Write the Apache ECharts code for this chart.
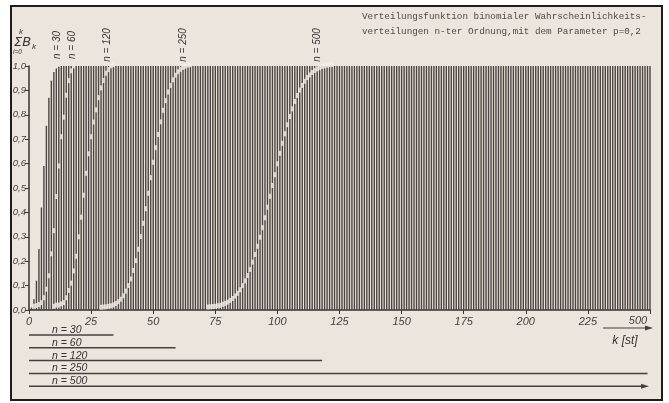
<!DOCTYPE html>
<html>
<head>
<meta charset="utf-8">
<title>Verteilungsfunktion binomialer Wahrscheinlichkeitsverteilungen</title>
<script src="https://cdn.jsdelivr.net/npm/echarts@6/dist/echarts.min.js"></script>
<style>html,body{margin:0;background:#fff}#main{width:669px;height:403px}</style>
</head>
<body>
<div id="main"></div>
<script>
// Balken n = 30, k = 0..12 (danach alle Balken bei 1,0)
var barsN30 = [0.001, 0.01, 0.044, 0.12, 0.25, 0.42, 0.59, 0.755, 0.87, 0.94, 0.975, 0.99, 0.997];
var kMax = 250;

// weisse Punkte der übrigen Verteilungen: erstes k und Summenwerte
var startN60 = 2;
var cdfN60 = [0.005, 0.008, 0.012, 0.02, 0.04, 0.075, 0.13, 0.22, 0.315, 0.455, 0.58, 0.70, 0.78, 0.87, 0.93, 0.97, 0.99];
var startN120 = 10;
var cdfN120 = [0.005, 0.01, 0.01, 0.015, 0.02, 0.04, 0.07, 0.10, 0.15, 0.21, 0.29, 0.37, 0.46, 0.55, 0.63, 0.70,
  0.76, 0.81, 0.86, 0.90, 0.93, 0.96, 0.975, 0.99, 0.995];
var startN250 = 29;
var cdfN250 = [0.001, 0.002, 0.003, 0.005, 0.007, 0.011, 0.016, 0.024, 0.034, 0.048, 0.067, 0.09, 0.117, 0.152,
  0.192, 0.239, 0.291, 0.345, 0.405, 0.468, 0.532, 0.595, 0.655, 0.709, 0.761, 0.808, 0.848, 0.883, 0.91, 0.933,
  0.952, 0.966, 0.976, 0.984, 0.989, 0.993, 0.995];
var startN500 = 72;
var cdfN500 = [0.002, 0.003, 0.004, 0.005, 0.007, 0.009, 0.013, 0.017, 0.022, 0.029, 0.037, 0.047, 0.058, 0.073,
  0.09, 0.109, 0.131, 0.156, 0.186, 0.217, 0.251, 0.288, 0.327, 0.368, 0.411, 0.456, 0.5, 0.544, 0.589, 0.632,
  0.673, 0.712, 0.749, 0.783, 0.814, 0.844, 0.869, 0.891, 0.91, 0.927, 0.942, 0.953, 0.963, 0.971, 0.978, 0.983,
  0.988, 0.99, 0.993, 0.995, 0.996];

// Beschriftungen
var nLabels = ['n = 30', 'n = 60', 'n = 120', 'n = 250', 'n = 500'];
var nLabelK = [11.5, 17.5, 31.5, 62, 116];     // k, bei dem die Kurve 1,0 erreicht
var rangeEnd = [34, 59, 118, 249, 248];        // Striche unter der Achse
var xTicks = [0, 25, 50, 75, 100, 125, 150, 175, 200, 225];
var titleLines = ['Verteilungsfunktion binomialer Wahrscheinlichkeits-',
  'verteilungen n-ter Ordnung,mit dem Parameter p=0,2'];

var paper = '#ebe5dd';
var ink = '#36322f';
var barColor = '#4a4340';
var dotColor = '#f3efe8';

var barData = [];
for (var k = 0; k <= kMax; k++) {
  barData.push([k, k < barsN30.length ? barsN30[k] : 1]);
}
function dots(start, vals) {
  return vals.map(function (v, i) { return [start + i, v]; });
}
var curves = [dots(startN60, cdfN60), dots(startN120, cdfN120), dots(startN250, cdfN250), dots(startN500, cdfN500)];

var series = [{
  type: 'bar',
  data: barData,
  barWidth: 1.4,
  itemStyle: { color: barColor },
  silent: true,
  z: 2
}];
curves.forEach(function (c) {
  series.push({
    type: 'scatter',
    data: c,
    symbol: 'rect',
    symbolSize: [2.6, 5],
    symbolOffset: [0, -2.5],
    itemStyle: { color: dotColor },
    silent: true,
    z: 3
  });
});

var chart = echarts.init(document.getElementById('main'));
chart.setOption({
  backgroundColor: '#ffffff',
  animation: false,
  grid: { left: 29, right: 19, top: 66, bottom: 93 },
  xAxis: {
    type: 'value', min: 0, max: kMax, interval: 25,
    axisLine: { lineStyle: { color: ink, width: 1.5 } },
    axisTick: { length: 4, lineStyle: { color: ink } },
    splitLine: { show: false },
    axisLabel: {
      fontStyle: 'italic', fontSize: 11, color: '#45403c', margin: 6,
      fontFamily: 'Liberation Sans',
      formatter: function (v) { return xTicks.indexOf(v) >= 0 ? String(v) : ''; }
    }
  },
  yAxis: {
    type: 'value', min: 0, max: 1, interval: 0.1,
    axisLine: { show: true, lineStyle: { color: ink, width: 1.5 } },
    axisTick: { show: true, length: 4, lineStyle: { color: ink } },
    splitLine: { show: false },
    axisLabel: {
      fontStyle: 'italic', fontSize: 9.5, color: '#45403c', margin: 3,
      fontFamily: 'Liberation Sans',
      formatter: function (v) { return v.toFixed(1).replace('.', ','); }
    }
  },
  series: series
});

// Rahmen, Titel und Zusatzbeschriftung
var g = [];
g.push({ type: 'rect', z: -10, silent: true, shape: { x: 11, y: 6, width: 651, height: 394 },
  style: { fill: paper, stroke: '#1f1d1c', lineWidth: 2 } });
titleLines.forEach(function (t, i) {
  g.push({ type: 'text', x: 362, y: 17 + i * 15, style: { text: t, font: '9.3px "Liberation Mono"',
    fill: '#4e4945', textVerticalAlign: 'middle' } });
});
// Summenzeichen
g.push({ type: 'text', x: 19, y: 32, style: { text: 'k', font: 'italic 8px "Liberation Sans"', fill: ink, textVerticalAlign: 'middle' } });
g.push({ type: 'text', x: 14, y: 43, style: { text: 'ΣB', font: 'italic 13px "DejaVu Sans"', fill: ink, textVerticalAlign: 'middle' } });
g.push({ type: 'text', x: 32, y: 47, style: { text: 'k', font: 'italic 8px "Liberation Sans"', fill: ink, textVerticalAlign: 'middle' } });
g.push({ type: 'text', x: 13, y: 52, style: { text: 'i=0', font: 'italic 6.5px "Liberation Sans"', fill: ink, textVerticalAlign: 'middle' } });

nLabels.forEach(function (lab, i) {
  var px = chart.convertToPixel({ xAxisIndex: 0 }, nLabelK[i]);
  g.push({ type: 'text', x: px, y: 45, rotation: Math.PI / 2,
    style: { text: lab, font: 'italic 10px "Liberation Sans"', fill: ink, textAlign: 'center', textVerticalAlign: 'middle' } });
  var x0 = chart.convertToPixel({ xAxisIndex: 0 }, 0);
  var x1 = chart.convertToPixel({ xAxisIndex: 0 }, rangeEnd[i]);
  var ly = 335 + i * 12.8;
  g.push({ type: 'line', shape: { x1: x0, y1: ly, x2: x1, y2: ly }, style: { stroke: '#45403d', lineWidth: 1.5 } });
  g.push({ type: 'text', x: 52, y: ly - 5, style: { text: lab, font: 'italic 10.5px "Liberation Sans"', fill: ink, textVerticalAlign: 'middle' } });
  if (i === nLabels.length - 1) {
    g.push({ type: 'polygon', shape: { points: [[x1 + 4, ly], [x1 - 4, ly - 2.5], [x1 - 4, ly + 2.5]] }, style: { fill: '#45403d' } });
  }
});
// Achsenende: 500 mit Pfeil
g.push({ type: 'text', x: 638, y: 321, style: { text: '500', font: 'italic 11px "Liberation Sans"', fill: '#45403c', textAlign: 'center', textVerticalAlign: 'middle' } });
g.push({ type: 'line', shape: { x1: 603, y1: 328, x2: 648, y2: 328 }, style: { stroke: '#45403d', lineWidth: 1.2 } });
g.push({ type: 'polygon', shape: { points: [[653, 328], [645, 325.5], [645, 330.5]] }, style: { fill: '#45403d' } });
g.push({ type: 'text', x: 625, y: 341, style: { text: 'k [st]', font: 'italic 12px "Liberation Sans"', fill: ink, textAlign: 'center', textVerticalAlign: 'middle' } });

chart.setOption({ graphic: g });
</script>
</body>
</html>
